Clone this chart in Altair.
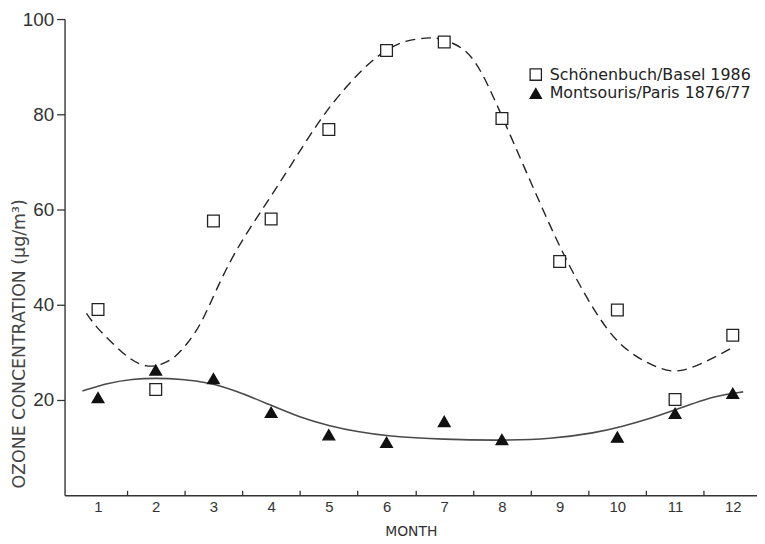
import altair as alt
import pandas as pd

# ---- data ----
months = [1, 2, 3, 4, 5, 6, 7, 8, 9, 10, 11, 12]
basel = [39.0, 22.2, 57.6, 58.0, 76.8, 93.4, 95.2, 79.1, 49.1, 38.9, 20.1, 33.6]
paris = [20.5, 26.3, 24.5, 17.4, 12.7, 11.1, 15.5, 11.7, None, 12.2, 17.2, 21.4]

# fitted curves as drawn in the figure
basel_fit_month = [0.80, 0.96, 1.24, 1.56, 1.85, 2.10, 2.33, 2.56, 2.79, 3.02, 3.37, 3.90,
                   4.33, 4.85, 5.31, 5.71, 6.05, 6.34, 6.69, 6.91, 7.37, 7.66, 8.02, 8.69,
                   9.12, 9.72, 10.18, 10.81, 11.10, 11.44, 11.98]
basel_fit_value = [38.2, 35.4, 32.0, 28.4, 26.8, 27.4, 28.8, 32.0, 36.0, 42.4, 51.3, 61.0,
                   69.0, 79.1, 86.0, 91.0, 94.0, 95.5, 96.1, 96.1, 94.0, 88.9, 79.1, 60.4,
                   49.0, 36.0, 29.8, 26.0, 26.0, 27.4, 30.9]
paris_fit_month = [0.73, 1.19, 1.59, 1.99, 2.45, 2.91, 3.42, 3.90, 4.50, 5.00, 5.50, 6.00,
                   7.00, 8.00, 8.84, 9.62, 10.08, 10.60, 11.02, 11.72, 12.18]
paris_fit_value = [21.9, 23.6, 24.4, 24.6, 24.4, 23.7, 21.8, 19.4, 16.3, 14.6, 13.3, 12.4,
                   11.7, 11.5, 11.8, 13.1, 14.4, 16.2, 18.0, 21.0, 21.7]

x_tick_positions = [1.5, 2.5, 3.5, 4.5, 5.5, 6.5, 7.5, 8.5, 9.5, 10.5, 11.5]
y_tick_values = [20, 40, 60, 80, 100]
series_names = ["Schönenbuch/Basel 1986", "Montsouris/Paris 1876/77"]

rows = []
for m, v in zip(months, basel):
    rows.append({"month": m, "value": v, "series": series_names[0]})
for m, v in zip(months, paris):
    if v is not None:
        rows.append({"month": m, "value": v, "series": series_names[1]})
points_df = pd.DataFrame(rows)
basel_fit_df = pd.DataFrame({"month": basel_fit_month, "value": basel_fit_value})
paris_fit_df = pd.DataFrame({"month": paris_fit_month, "value": paris_fit_value})

FONT = "Liberation Sans"
INK = "#333333"
H = 480

x_scale = alt.Scale(domain=[0.42, 12.42], nice=False, zero=False)
y_scale = alt.Scale(domain=[0, 100], nice=False, zero=True)

y_enc = alt.Y(
    "value:Q",
    scale=y_scale,
    axis=alt.Axis(
        values=y_tick_values,
        title="OZONE CONCENTRATION (μg/m³)",
        grid=False,
        tickSize=8,
        tickColor=INK,
        tickWidth=1.3,
        domainColor=INK,
        domainWidth=1.4,
        labelFontSize=19,
        labelColor=INK,
        labelPadding=3,
        labelFont=FONT,
        titleFont="DejaVu Sans",
        titleFontSize=17.5,
        titleFontWeight="normal",
        titleColor="#444444",
        titleAngle=270,
        titleAlign="center",
        titleBaseline="middle",
        titleX=-45,
        titleY=327,
    ),
)

main_x_axis = alt.Axis(
    values=months,
    ticks=False,
    grid=False,
    domainColor=INK,
    domainWidth=1.4,
    labelFontSize=15,
    labelFont=FONT,
    labelColor=INK,
    labelPadding=4,
    title="MONTH",
    titleFont="DejaVu Sans",
    titleFontSize=14,
    titleFontWeight="normal",
    titleColor=INK,
    titlePadding=11,
)

tick_x_axis = alt.Axis(
    orient="top",
    offset=-H,
    values=x_tick_positions,
    labels=False,
    domain=False,
    ticks=True,
    tickSize=5,
    tickColor=INK,
    tickWidth=1.3,
    grid=False,
    title=None,
)

dashed = alt.Chart(basel_fit_df).mark_line(
    strokeDash=[10, 6], strokeWidth=1.4, color="#222222", interpolate="basis"
).encode(
    x=alt.X("month:Q", scale=x_scale, axis=main_x_axis),
    y=y_enc,
)

solid = alt.Chart(paris_fit_df).mark_line(
    strokeWidth=1.6, color="#4a4a4a", interpolate="basis"
).encode(
    x=alt.X("month:Q", scale=x_scale, axis=None),
    y=y_enc,
)

legend = alt.Legend(title=None)
pts = alt.Chart(points_df).mark_point(size=140, strokeWidth=1.3, opacity=1).encode(
    x=alt.X("month:Q", scale=x_scale, axis=tick_x_axis),
    y=y_enc,
    shape=alt.Shape("series:N", scale=alt.Scale(domain=series_names, range=["square", "triangle-up"]), legend=legend),
    fill=alt.Fill("series:N", scale=alt.Scale(domain=series_names, range=["white", "#111111"]), legend=legend),
    stroke=alt.Stroke("series:N", scale=alt.Scale(domain=series_names, range=["#222222", "#111111"]), legend=legend),
)

chart = (
    alt.layer(dashed, solid, pts)
    .resolve_axis(x="independent")
    .properties(
        width=698,
        height=H,
        autosize=alt.AutoSizeParams(type="none"),
        padding={"left": 57, "top": 9, "right": 0, "bottom": 46},
        background="white",
    )
    .configure_view(stroke=None)
    .configure_legend(
        orient="none",
        legendX=467,
        legendY=48,
        labelFont="DejaVu Sans",
        labelFontSize=16,
        labelColor="#222222",
        labelLimit=0,
        symbolSize=130,
        symbolStrokeWidth=1.3,
        padding=0,
        rowPadding=2,
        labelOffset=6,
    )
)

chart.save("out.html", embed_options={"renderer": "svg", "actions": False})
